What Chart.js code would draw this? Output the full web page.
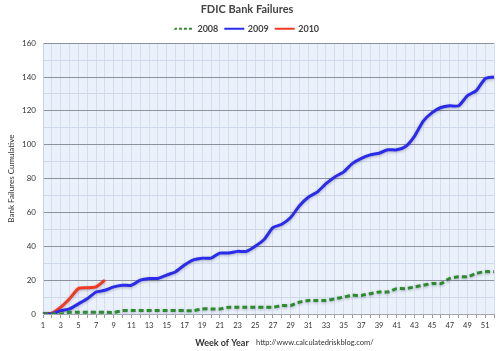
<!DOCTYPE html>
<html>
<head>
<meta charset="utf-8">
<script src="https://cdn.jsdelivr.net/npm/chart.js@4/dist/chart.umd.min.js"></script>
<style>
  html, body { margin: 0; padding: 0; background: #fff; }
  #wrap { width: 503px; height: 351px; position: relative; }
</style>
</head>
<body>
<div id="wrap"><canvas id="chart" width="503" height="351"></canvas></div>
<script>
const weeks = [];
for (let w = 1; w <= 52; w++) weeks.push(String(w));

const fails2008 = [0, 0, 0, 1, 1, 1, 1, 1, 1, 2, 2, 2, 2, 2, 2, 2, 2, 2, 3, 3,
  3, 4, 4, 4, 4, 4, 4, 5, 5, 7, 8, 8, 8, 9, 10, 11, 11, 12, 13, 13,
  15, 15, 16, 17, 18, 18, 21, 22, 22, 24, 25, 25];
const fails2009 = [0, 0, 2, 3, 6, 9, 13, 14, 16, 17, 17, 20, 21, 21, 23, 25, 29, 32, 33, 33,
  36, 36, 37, 37, 40, 44, 51, 53, 57, 64, 69, 72, 77, 81, 84, 89, 92, 94, 95, 97,
  97, 99, 105, 114, 119, 122, 123, 123, 129, 132, 139, 140];
const fails2010 = [0, 0.5, 4, 9, 15, 15.5, 16, 20];

const yTitle = 'Bank Failures Cumulative';
const xTitle = 'Week of Year';
const sourceUrl = 'http://www.calculatedriskblog.com/';

const fontFam = 'Lato, "Liberation Sans", sans-serif';

const decor = {
  id: 'decor',
  beforeDraw(chart) {
    const { ctx, chartArea: a } = chart;
    ctx.save();
    ctx.fillStyle = '#eaf1fb';
    ctx.fillRect(a.left, a.top, a.right - a.left, a.bottom - a.top);
    ctx.restore();
  },
  beforeDatasetsDraw(chart) {
    const ctx = chart.ctx;
    ctx.save();
    ctx.shadowColor = 'rgba(40,40,80,0.35)';
    ctx.shadowBlur = 3;
    ctx.shadowOffsetY = 1;
  },
  afterDatasetsDraw(chart) {
    chart.ctx.restore();
  },
  afterDraw(chart) {
    const ctx = chart.ctx;
    ctx.save();
    ctx.fillStyle = '#333';
    ctx.textBaseline = 'middle';
    ctx.textAlign = 'center';
    ctx.font = 'bold 9px ' + fontFam;
    ctx.fillText(xTitle, 222, 343);
    ctx.textAlign = 'left';
    ctx.font = '7.5px ' + fontFam;
    ctx.fillText(sourceUrl, 256, 343);
    ctx.restore();
  }
};

new Chart('chart', {
  type: 'line',
  data: {
    labels: weeks,
    datasets: [{
      label: '2008',
      data: fails2008,
      borderColor: '#2f8a2f',
      backgroundColor: '#2f8a2f',
      borderWidth: 3,
      borderDash: [5, 3],
      pointRadius: 0,
      tension: 0.2
    }, {
      label: '2009',
      data: fails2009,
      borderColor: '#2b2bea',
      backgroundColor: '#2b2bea',
      borderWidth: 3,
      pointRadius: 0,
      tension: 0.2
    }, {
      label: '2010',
      data: fails2010,
      borderColor: '#f03a22',
      backgroundColor: '#f03a22',
      borderWidth: 3,
      pointRadius: 0,
      tension: 0.2
    }]
  },
  options: {
    responsive: false,
    animation: false,
    layout: { padding: { left: 0, right: 9, top: 0, bottom: 0 } },
    plugins: {
      title: {
        display: true,
        text: 'FDIC Bank Failures',
        color: '#444',
        font: { family: fontFam, size: 11, weight: 'bold' },
        padding: { top: 3, bottom: 1 }
      },
      legend: {
        labels: {
          color: '#444',
          font: { family: fontFam, size: 9, weight: 'bold' },
          boxWidth: 18,
          boxHeight: 0.001,
          padding: 7,
          generateLabels(chart) {
            return chart.data.datasets.map((ds, i) => ({
              text: ds.label,
              fillStyle: ds.borderColor,
              strokeStyle: ds.borderColor,
              lineWidth: 2,
              lineDash: i === 0 ? [2, 3] : [],
              datasetIndex: i,
              fontColor: '#444'
            }));
          }
        }
      },
      tooltip: { enabled: false }
    },
    scales: {
      x: {
        offset: false,
        afterFit(s) { s.height = 37; },
        grid: { color: '#d4deec', tickLength: 4, tickColor: '#999' },
        border: { color: '#a0a8b4' },
        ticks: {
          autoSkip: false,
          maxRotation: 0,
          color: '#333',
          padding: 3,
          font: { family: fontFam, size: 7.5 },
          callback(v, i) { return i % 2 === 0 ? weeks[i] : ''; }
        }
      },
      y: {
        min: 0,
        max: 160,
        afterFit(s) { s.width = 43; },
        title: {
          display: true,
          text: yTitle,
          color: '#333',
          font: { family: fontFam, size: 8 },
          padding: { top: 7, bottom: 0 }
        },
        grid: {
          drawTicks: false,
          color(c) { return c.tick.value % 20 === 0 ? '#8c929c' : '#cdd8e8'; }
        },
        border: { color: '#c8d2e0' },
        ticks: {
          stepSize: 10,
          color: '#333',
          padding: 7,
          font: { family: fontFam, size: 8 },
          callback(v) { return v % 20 === 0 ? v : ''; }
        }
      }
    }
  },
  plugins: [decor]
});
</script>
</body>
</html>
